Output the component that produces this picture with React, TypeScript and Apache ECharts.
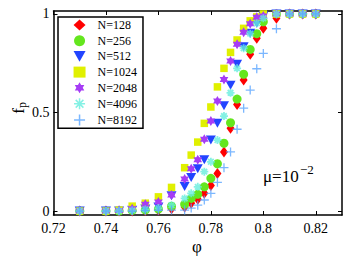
import React, { useEffect, useRef } from "react";
import * as echarts from "echarts";

const xs = [0.73, 0.74, 0.745, 0.75, 0.755, 0.76, 0.765, 0.77, 0.7725, 0.775, 0.7775, 0.78, 0.7825, 0.785, 0.7875, 0.79, 0.7925, 0.795, 0.7975, 0.8, 0.805, 0.81, 0.815, 0.82];

const n128 = [0, 0, 0, 0, 0.003, 0.005, 0.012, 0.02, 0.04, 0.06, 0.09, 0.13, 0.19, 0.3, 0.42, 0.54, 0.665, 0.795, 0.877, 0.927, 0.978, 1, 1, 1];
const n256 = [0, 0, 0, 0.003, 0.006, 0.01, 0.025, 0.034, 0.064, 0.085, 0.123, 0.166, 0.24, 0.344, 0.448, 0.568, 0.694, 0.82, 0.9, 0.96, 1, 1, 1, 1];
const n512 = [0, 0, 0, 0.004, 0.01, 0.02, 0.078, 0.125, 0.17, 0.215, 0.26, 0.36, 0.445, 0.534, 0.638, 0.745, 0.834, 0.902, 0.953, 0.99, 1, 1, 1, 1];
const n1024 = [0, 0, 0.005, 0.025, 0.04, 0.072, 0.12, 0.22, 0.284, 0.35, 0.445, 0.528, 0.63, 0.724, 0.805, 0.868, 0.927, 0.965, 0.985, 1, 1, 1, 1, 1];
const n2048 = [0, 0, 0.003, 0.012, 0.035, 0.046, 0.081, 0.163, 0.215, 0.26, 0.364, 0.457, 0.558, 0.667, 0.761, 0.846, 0.907, 0.95, 0.983, 0.99, 1, 1, 1, 1];
const n4096 = [0, 0, 0, 0.003, 0.008, 0.015, 0.03, 0.064, 0.09, 0.123, 0.2, 0.25, 0.36, 0.482, 0.6, 0.724, 0.826, 0.9, 0.953, 0.978, 1, 1, 1, 1];
const n8192 = [0, 0, 0, 0, 0.002, 0.004, 0.005, 0.005, 0.015, 0.03, 0.056, 0.09, 0.146, 0.22, 0.3, 0.415, 0.522, 0.614, 0.722, 0.8, 0.925, 1, 1, 1];

const names = ["N=128", "N=256", "N=512", "N=1024", "N=2048", "N=4096", "N=8192"];
const xTicks = [0.72, 0.74, 0.76, 0.78, 0.8, 0.82];
const yTicks = [0, 0.5, 1];

const FONT = "Liberation Serif, Times New Roman, DejaVu Serif, serif";
const STAR = "path://M10,0 L12.89,5 L18.66,5 L15.77,10 L18.66,15 L12.89,15 L10,20 L7.11,15 L1.34,15 L4.23,10 L1.34,5 L7.11,5 Z";
const ASTER = "path://M0,10 L20,10 M10,0 L10,20 M3,3 L17,17 M17,3 L3,17";
const PLUS = "path://M0,10 L20,10 M10,0 L10,20";
const DOWN_TRI = "path://M0,0 L10,0 L5,9 Z";

export default function App() {
  const ref = useRef<HTMLDivElement>(null);
  useEffect(() => {
    if (!ref.current) return;
    const chart = echarts.init(ref.current, undefined, { renderer: "svg" });
    const pairs = (ys: number[]) => xs.map((x, i) => [x, ys[i]]);
    const mk = (name: string, ys: number[], symbol: string, size: any, color: string, extra: any = {}) => ({
      type: "scatter",
      name,
      data: pairs(ys),
      symbol,
      symbolSize: size,
      itemStyle: { color, opacity: 1 },
      ...extra,
    });
    const axisLine = { show: true, onZero: false, lineStyle: { color: "#000", width: 1.5 } };
    chart.setOption({
      animation: false,
      backgroundColor: "#fff",
      grid: { left: 53.5, right: 7, top: 11, bottom: 41 },
      xAxis: [
        {
          type: "value", min: 0.72, max: 0.83, position: "bottom",
          axisLine,
          axisTick: { show: true, inside: true, length: 4, customValues: xTicks, lineStyle: { color: "#000", width: 1 } },
          axisLabel: { show: true, customValues: xTicks, color: "#000", fontSize: 14, fontFamily: FONT, margin: 6 },
          splitLine: { show: false },
        },
        {
          type: "value", min: 0.72, max: 0.83, position: "top",
          axisLine,
          axisTick: { show: true, inside: true, length: 4, customValues: xTicks, lineStyle: { color: "#000", width: 1 } },
          axisLabel: { show: false },
          splitLine: { show: false },
        },
      ],
      yAxis: [
        {
          type: "value", min: -0.02, max: 1.015, position: "left",
          axisLine,
          axisTick: { show: true, inside: true, length: 4, customValues: yTicks, lineStyle: { color: "#000", width: 1 } },
          axisLabel: { show: true, customValues: yTicks, color: "#000", fontSize: 14, fontFamily: FONT, margin: 4 },
          splitLine: { show: false },
        },
        {
          type: "value", min: -0.02, max: 1.015, position: "right",
          axisLine,
          axisTick: { show: true, inside: true, length: 4, customValues: yTicks, lineStyle: { color: "#000", width: 1 } },
          axisLabel: { show: false },
          splitLine: { show: false },
        },
      ],
      legend: {
        orient: "vertical",
        left: 58,
        top: 17,
        padding: [2, 6, 2, 15.3],
        itemWidth: 12,
        itemHeight: 11,
        itemGap: 3.7,
        symbolKeepAspect: true,
        borderColor: "#000",
        borderWidth: 1.5,
        backgroundColor: "#fff",
        textStyle: { color: "#000", fontSize: 12, fontFamily: FONT, lineHeight: 11, padding: [0, 0, 0, 7] },
        data: names.map((n, i) =>
          i === 2 ? { name: n, icon: DOWN_TRI } : i >= 5 ? { name: n, itemStyle: { borderWidth: 1.5 } } : { name: n }
        ),
      },
      series: [
        mk(names[0], n128, "diamond", [8, 11], "#ff0000"),
        mk(names[1], n256, "circle", 9, "#64e61e"),
        mk(names[2], n512, DOWN_TRI, [10, 9], "#2244ff"),
        mk(names[3], n1024, "rect", 7.5, "#e0f000"),
        mk(names[4], n2048, STAR, 10, "#a63cf5", { symbolKeepAspect: true }),
        {
          ...mk(names[5], n4096, ASTER, 8, "#66eedd"),
          itemStyle: { color: "#66eedd", borderColor: "#66eedd", borderWidth: 1.8 },
        },
        {
          ...mk(names[6], n8192, PLUS, 9, "#5aa5ff"),
          itemStyle: { color: "#5aa5ff", borderColor: "#5aa5ff", borderWidth: 1.3 },
        },
      ],
      graphic: [
        { type: "text", x: 263, y: 176, style: { text: "μ=10", fontSize: 17, fontFamily: FONT, fill: "#000", verticalAlign: "middle" } },
        { type: "text", x: 300, y: 169, style: { text: "−2", fontSize: 13, fontFamily: FONT, fill: "#000", verticalAlign: "middle" } },
        { type: "text", x: 197, y: 246, style: { text: "φ", fontSize: 17, fontFamily: FONT, fill: "#000", align: "center", verticalAlign: "middle" } },
        {
          type: "group", x: 18, y: 108, rotation: Math.PI / 2,
          children: [
            { type: "text", x: -3, y: 0, style: { text: "f", fontSize: 17, fontFamily: FONT, fill: "#000", align: "center", verticalAlign: "middle" } },
            { type: "text", x: 3, y: 4, style: { text: "p", fontSize: 12, fontFamily: FONT, fill: "#000", align: "center", verticalAlign: "middle" } },
          ],
        },
      ],
    });
    return () => chart.dispose();
  }, []);
  return <div ref={ref} style={{ position: "fixed", left: 0, top: 0, width: 349, height: 256 }} />;
}
